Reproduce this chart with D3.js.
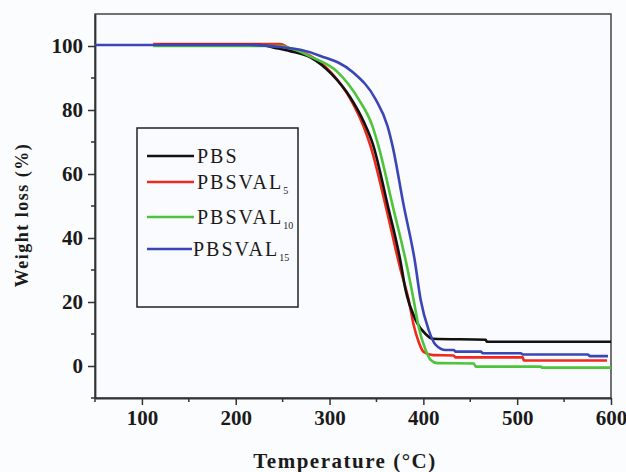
<!DOCTYPE html>
<html>
<head>
<meta charset="utf-8">
<script src="https://cdn.jsdelivr.net/npm/d3@7"></script>
<style>
  body { margin: 0; background: #fbfcfe; }
  svg { display: block; }
  text { font-family: "Liberation Serif", "Times New Roman", Times, serif; }
</style>
</head>
<body>
<svg id="chart" width="626" height="472"></svg>
<script>
// TGA curves: [temperature (C), weight (%)]
const pbs = [[119,100.3],[226,100.3],[242,99.4],[258,98.4],[280,96.4],[302,91.3],[322,84],[337,76],[346,69.5],
  [362,50.2],[375.7,32.6],[381,23.8],[391.7,14.4],[402.4,10],[410,8.5],[466.5,8.2],[467.6,7.6],[600,7.6]];
const pbsval5 = [[112,100.6],[247.6,100.6],[258.3,99.1],[279.6,96.9],[301,91.9],[322.3,83.4],[336.2,74.9],[343.7,68.7],
  [359.7,50.2],[375.7,30.1],[384.3,20.7],[389.6,12.9],[395,7.5],[400.3,4.4],[410,3.4],[432.3,3.3],[434.5,2.7],
  [506,2.7],[507.1,1.7],[595.7,1.7]];
const pbsval10 = [[112,100],[247.6,100],[260.4,99.1],[279.6,96.7],[308.4,91.9],[330.9,83.4],[345.8,74.9],[352.2,68.7],
  [367.2,50.2],[382.1,31.7],[389.6,20.7],[395,12.2],[402.4,5],[407.8,1.9],[415.2,0.9],[453.7,0.8],[455.8,-0.2],
  [525.2,-0.2],[526.3,-0.5],[600,-0.5]];
const pbsval15 = [[50,100.3],[215.5,100.3],[247.6,99.7],[268.9,98.8],[290.3,96.9],[324.5,91.9],[349,83.4],[361.9,74.9],
  [367.2,68.7],[379,50.2],[390.7,33.2],[397.1,20.7],[405.6,11.3],[413.1,6.6],[423.8,5],[432.3,5],[434.5,4.5],
  [461.2,4.5],[463.3,4],[503.9,4],[506,3.6],[575.4,3.6],[577.6,3.1],[596.8,3.1]];

const seriesNames = ["PBS", "PBSVAL", "PBSVAL", "PBSVAL"];
const seriesSubs = ["", "5", "10", "15"];
const seriesColors = ["#111111", "#f0291c", "#4ec43a", "#3b45b5"];
const seriesData = [pbs, pbsval5, pbsval10, pbsval15];
const drawOrder = [1, 0, 2, 3];

const xTicks = [100, 200, 300, 400, 500, 600];
const xMinor = [50, 150, 250, 350, 450, 550];
const yTicks = [0, 20, 40, 60, 80, 100];
const yMinor = [-10, 10, 30, 50, 70, 90];

const serif = "'Liberation Serif', 'Times New Roman', Times, serif";
const plotLeft = 95, plotRight = 611, plotTop = 14, plotBottom = 398;

const svg = d3.select("#chart");

const x = d3.scaleLinear().domain([50, 600]).range([plotLeft, plotRight]);
const y = d3.scaleLinear().domain([-10, 110]).range([plotBottom, plotTop]);

svg.append("rect")
  .attr("x", plotLeft).attr("y", plotTop)
  .attr("width", plotRight - plotLeft).attr("height", plotBottom - plotTop)
  .attr("fill", "#fafbfe")
  .attr("stroke", "#444").attr("stroke-width", 1.5);

// axes
const xAxis = svg.append("g")
  .attr("transform", "translate(0," + plotBottom + ")")
  .call(d3.axisBottom(x).tickValues(xTicks).tickSize(7).tickSizeOuter(0).tickPadding(5));
xAxis.append("g").selectAll("line")
  .data(xMinor)
  .enter().append("line")
  .attr("x1", d => x(d)).attr("x2", d => x(d))
  .attr("y1", 0).attr("y2", 4)
  .attr("stroke", "#333").attr("stroke-width", 1.5);

const yAxis = svg.append("g")
  .attr("transform", "translate(" + plotLeft + ",0)")
  .call(d3.axisLeft(y).tickValues(yTicks).tickSize(7).tickSizeOuter(0).tickPadding(5));
yAxis.append("g").selectAll("line")
  .data(yMinor)
  .enter().append("line")
  .attr("y1", d => y(d)).attr("y2", d => y(d))
  .attr("x1", 0).attr("x2", -4)
  .attr("stroke", "#333").attr("stroke-width", 1.5);

svg.selectAll("g").attr("font-family", serif);
svg.selectAll(".domain").attr("stroke", "#333").attr("stroke-width", 1.8);
svg.selectAll(".tick line").attr("stroke", "#333").attr("stroke-width", 1.5);
svg.selectAll(".tick text")
  .attr("font-family", serif)
  .attr("font-weight", "bold")
  .attr("font-size", 21)
  .attr("fill", "#1a1a1a");

// curves
const line = d3.line()
  .x(d => x(d[0]))
  .y(d => y(d[1]))
  .curve(d3.curveMonotoneX);

drawOrder.forEach(i => {
  svg.append("path")
    .datum(seriesData[i])
    .attr("fill", "none")
    .attr("stroke", seriesColors[i])
    .attr("stroke-width", 2.6)
    .attr("d", line);
});

// legend
const legend = svg.append("g");
legend.append("rect")
  .attr("x", 137).attr("y", 128)
  .attr("width", 161).attr("height", 179)
  .attr("fill", "#fafbfe")
  .attr("stroke", "#222").attr("stroke-width", 1.5);

const legendY = [156, 182, 217, 249];
seriesNames.forEach((name, i) => {
  legend.append("line")
    .attr("x1", 147).attr("x2", i == 3 ? 192 : 194)
    .attr("y1", legendY[i]).attr("y2", legendY[i])
    .attr("stroke", seriesColors[i]).attr("stroke-width", 2.6);
  const t = legend.append("text")
    .attr("x", i == 3 ? 193 : 197)
    .attr("y", legendY[i] + 7)
    .attr("font-family", serif)
    .attr("font-size", 20)
    .attr("letter-spacing", 2)
    .attr("fill", "#1a1a1a")
    .text(name);
  if (seriesSubs[i]) {
    t.append("tspan")
      .attr("dy", 5)
      .attr("font-size", 10)
      .attr("letter-spacing", 0)
      .text(seriesSubs[i]);
  }
});

// axis titles
svg.append("text")
  .attr("transform", "translate(28,215) rotate(-90)")
  .attr("text-anchor", "middle")
  .attr("font-family", serif)
  .attr("font-weight", "bold")
  .attr("font-size", 18)
  .attr("letter-spacing", 1.5)
  .attr("fill", "#1a1a1a")
  .text("Weight loss (%)");

svg.append("text")
  .attr("x", 345).attr("y", 468)
  .attr("text-anchor", "middle")
  .attr("font-family", serif)
  .attr("font-weight", "bold")
  .attr("font-size", 21)
  .attr("letter-spacing", 1.5)
  .attr("fill", "#1a1a1a")
  .text("Temperature (°C)");
</script>
</body>
</html>
